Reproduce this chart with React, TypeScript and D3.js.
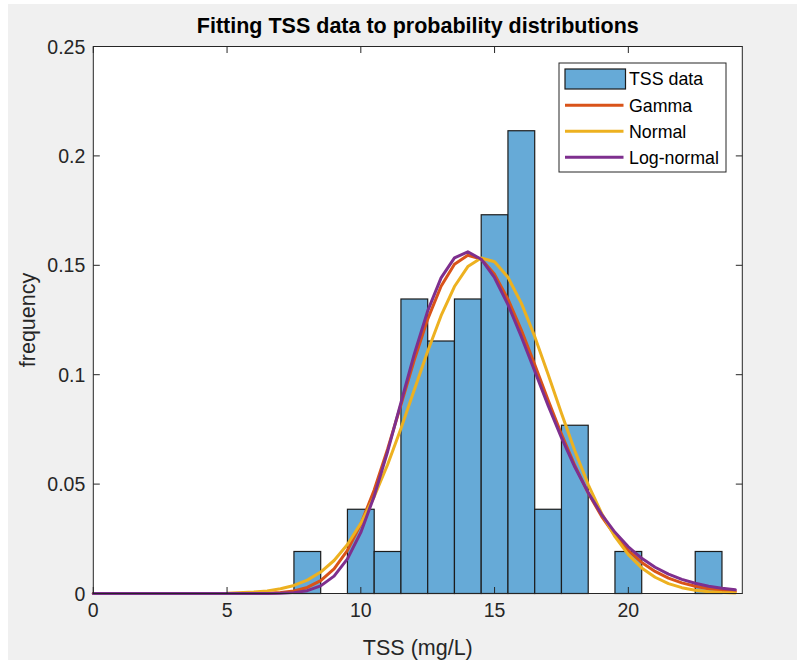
import React from "react";
import * as d3 from "d3";

// Histogram bins (TSS, mg/L) and relative frequency
const binLo = [7.5, 9.5, 10.5, 11.5, 12.5, 13.5, 14.5, 15.5, 16.5, 17.5, 19.5, 22.5];
const binHi = [8.5, 10.5, 11.5, 12.5, 13.5, 14.5, 15.5, 16.5, 17.5, 18.5, 20.5, 23.5];
const binFreq = [0.0192, 0.0385, 0.0192, 0.1346, 0.1154, 0.1346, 0.1731, 0.2115, 0.0385, 0.0769, 0.0192, 0.0192];

// Fitted curve sample positions
const curveX = [0, 2, 4, 5, 6, 6.5, 7, 7.5, 8, 8.5, 9, 9.5, 10, 10.5, 11, 11.5, 12, 12.5, 13, 13.5, 14, 14.5, 15, 15.5, 16, 16.5, 17, 17.5, 18, 18.5, 19, 19.5, 20, 20.5, 21, 21.5, 22, 22.5, 23, 23.5, 24];

const gammaY = [0, 0, 0, 0, 0.00004, 0.00013, 0.00042, 0.00116, 0.00277, 0.00589, 0.01129, 0.01972, 0.03171, 0.0473, 0.06596, 0.08629, 0.10678, 0.12541, 0.14042, 0.15047, 0.15457, 0.15288, 0.14586, 0.13452, 0.1204, 0.10467, 0.08838, 0.0728, 0.05849, 0.04591, 0.03525, 0.02654, 0.01958, 0.01418, 0.01008, 0.00705, 0.00484, 0.00329, 0.00219, 0.00144, 0.00094];

const normalY = [0, 0, 0.00004, 0.00017, 0.00065, 0.0012, 0.00214, 0.00369, 0.00612, 0.00979, 0.01508, 0.02241, 0.03208, 0.04426, 0.05883, 0.07538, 0.09307, 0.11073, 0.12697, 0.1403, 0.14941, 0.15333, 0.15164, 0.14452, 0.13273, 0.11749, 0.10022, 0.08237, 0.06525, 0.04981, 0.03665, 0.02598, 0.01775, 0.01169, 0.00742, 0.00454, 0.00267, 0.00152, 0.00083, 0.00044, 0.00022];

const lognormalY = [0, 0, 0, 0, 0, 0.00002, 0.0001, 0.0004, 0.0013, 0.00348, 0.00794, 0.0158, 0.02792, 0.0445, 0.06481, 0.08723, 0.10948, 0.12917, 0.14426, 0.1534, 0.15614, 0.15279, 0.14432, 0.13204, 0.11738, 0.10166, 0.086, 0.07119, 0.0578, 0.0461, 0.03617, 0.02798, 0.02133, 0.01608, 0.01198, 0.00883, 0.00645, 0.00467, 0.00335, 0.00239, 0.00169];

const xTicks = [0, 5, 10, 15, 20];
const yTicks = [0, 0.05, 0.1, 0.15, 0.2, 0.25];
const yTickLabels = ["0", "0.05", "0.1", "0.15", "0.2", "0.25"];

const seriesNames = ["TSS data", "Gamma", "Normal", "Log-normal"];
const seriesColors = ["#66AAD7", "#D95319", "#EDB120", "#7E2F8E"];

const W = 797;
const H = 660;
const L = 93.3;
const R = 742.3;
const T = 46.5;
const B = 593.5;
const FONT = "'Liberation Sans', Arial, Helvetica, sans-serif";
const AX = "#262626";

export default function App() {
  const x = d3.scaleLinear().domain([0, 24.26]).range([L, R]);
  const y = d3.scaleLinear().domain([0, 0.25]).range([B, T]);
  const line = d3
    .line<number>()
    .x((_, i) => x(curveX[i]))
    .y((d) => y(d));
  const curves = [gammaY, normalY, lognormalY];
  const tickLen = 6.5;

  const legX = 559;
  const legY = 63;
  const rowY = [79, 105.3, 131.3, 157.3];

  return (
    <svg
      width={W}
      height={H}
      style={{ position: "absolute", left: 0, top: 0 }}
      fontFamily={FONT}
    >
      <rect x={0} y={0} width={W} height={H} fill="#ffffff" />
      <rect x={8} y={4} width={W - 8} height={H - 4} fill="#F0F0F0" />
      <rect x={L} y={T} width={R - L} height={B - T} fill="#ffffff" />

      {/* bars */}
      {binFreq.map((f, i) => (
        <rect
          key={i}
          x={x(binLo[i])}
          y={y(f)}
          width={x(binHi[i]) - x(binLo[i])}
          height={y(0) - y(f)}
          fill={seriesColors[0]}
          stroke="#1c1c1c"
          strokeWidth={1.2}
        />
      ))}

      {/* curves */}
      {curves.map((c, i) => (
        <path
          key={i}
          d={line(c) || ""}
          fill="none"
          stroke={seriesColors[i + 1]}
          strokeWidth={3}
          strokeLinejoin="round"
          strokeLinecap="round"
        />
      ))}

      {/* axes box */}
      <rect x={L} y={T} width={R - L} height={B - T} fill="none" stroke={AX} strokeWidth={1} />

      {/* x ticks */}
      {xTicks.map((t) => (
        <g key={"x" + t}>
          <line x1={x(t)} x2={x(t)} y1={B} y2={B - tickLen} stroke={AX} strokeWidth={1} />
          <line x1={x(t)} x2={x(t)} y1={T} y2={T + tickLen} stroke={AX} strokeWidth={1} />
          <text x={x(t)} y={617} textAnchor="middle" fontSize={19.5} fill={AX}>
            {String(t)}
          </text>
        </g>
      ))}

      {/* y ticks */}
      {yTicks.map((t, i) => (
        <g key={"y" + t}>
          <line x1={L} x2={L + tickLen} y1={y(t)} y2={y(t)} stroke={AX} strokeWidth={1} />
          <line x1={R} x2={R - tickLen} y1={y(t)} y2={y(t)} stroke={AX} strokeWidth={1} />
          <text x={L - 8} y={y(t)} dy="0.36em" textAnchor="end" fontSize={19.5} fill={AX}>
            {yTickLabels[i]}
          </text>
        </g>
      ))}

      {/* title & labels */}
      <text x={(L + R) / 2} y={33} textAnchor="middle" fontSize={21.5} fontWeight="bold" fill="#000">
        Fitting TSS data to probability distributions
      </text>
      <text x={(L + R) / 2} y={655} textAnchor="middle" fontSize={21.5} fill={AX}>
        TSS (mg/L)
      </text>
      <text
        transform={`translate(35,${(T + B) / 2}) rotate(-90)`}
        textAnchor="middle"
        fontSize={21.5}
        fill={AX}
      >
        frequency
      </text>

      {/* legend */}
      <rect x={legX} y={legY} width={726 - legX} height={172 - legY} fill="#ffffff" stroke={AX} strokeWidth={1} />
      <rect x={565} y={rowY[0] - 10} width={60.5} height={20} fill={seriesColors[0]} stroke="#1c1c1c" strokeWidth={1.2} />
      {[1, 2, 3].map((i) => (
        <line key={i} x1={565} x2={623.5} y1={rowY[i]} y2={rowY[i]} stroke={seriesColors[i]} strokeWidth={3} />
      ))}
      {seriesNames.map((n, i) => (
        <text key={n} x={629} y={rowY[i]} dy="0.36em" fontSize={17.8} fill="#000">
          {n}
        </text>
      ))}
    </svg>
  );
}
